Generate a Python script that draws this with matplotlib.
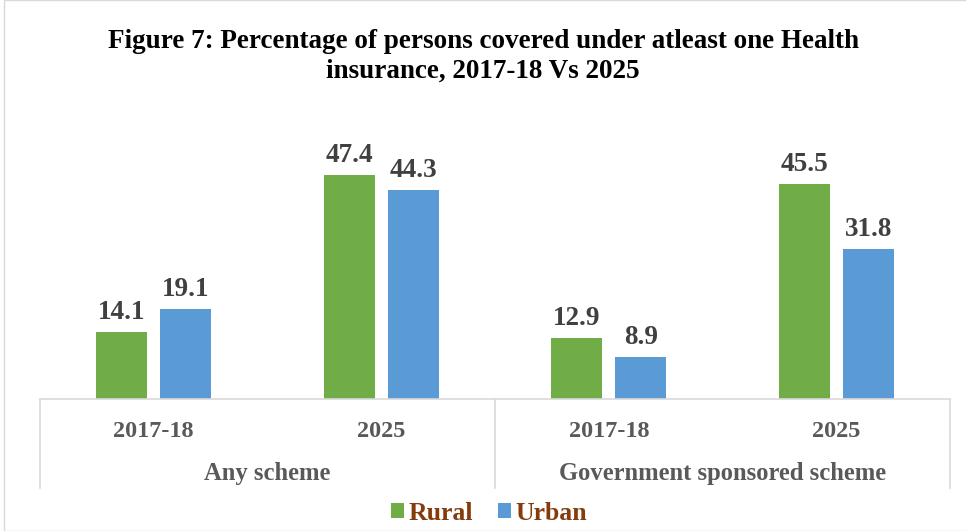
import matplotlib
matplotlib.use("Agg")
import matplotlib.pyplot as plt
from matplotlib.lines import Line2D
from matplotlib.patches import Rectangle
import numpy as np

title = "Figure 7: Percentage of persons covered under atleast one Health\ninsurance, 2017-18 Vs 2025"
groups = ["Any scheme", "Government sponsored scheme"]
years = ["2017-18", "2025", "2017-18", "2025"]
series_names = ["Rural", "Urban"]
rural = [14.1, 47.4, 12.9, 45.5]
urban = [19.1, 44.3, 8.9, 31.8]
colors = ["#70AD47", "#5B9BD5"]

plt.rcParams['font.family'] = ['Liberation Serif', 'DejaVu Serif']
fig = plt.figure(figsize=(9.66, 5.31), dpi=100)
W, H = 966, 531
x0, x1, ybase, ytop = 40, 950, 399, 139
ax = fig.add_axes([x0 / W, 1 - ybase / H, (x1 - x0) / W, (ybase - ytop) / H])

n = len(years)
x = np.arange(n)
bw = 0.224
gap = 0.057
b1 = ax.bar(x - bw / 2 - gap / 2, rural, bw, color=colors[0], label=series_names[0])
b2 = ax.bar(x + bw / 2 + gap / 2, urban, bw, color=colors[1], label=series_names[1])
for bars, vals in ((b1, rural), (b2, urban)):
    for r, v in zip(bars, vals):
        ax.annotate(f"{v:.1f}", (r.get_x() + r.get_width() / 2, v), xytext=(0, 5),
                    textcoords="offset points", ha="center", va="bottom",
                    fontsize=19.5, fontweight="bold", color="#404040")

ax.set_xlim(-0.5, n - 0.5)
ax.set_ylim(0, 55)
ax.set_yticks([])
ax.set_xticks([])
for s in ["top", "right", "left"]:
    ax.spines[s].set_visible(False)
ax.spines["bottom"].set_color("#D9D9D9")
ax.spines["bottom"].set_linewidth(1.2)

# category labels (two-level)
trans = ax.get_xaxis_transform()
for i, yr in enumerate(years):
    ax.text(i, -0.125, yr, transform=trans, ha="center", va="center",
            fontsize=17.5, fontweight="bold", color="#595959")
for gi, g in enumerate(groups):
    ax.text(gi * 2 + 0.5, -0.285, g, transform=trans, ha="center", va="center",
            fontsize=17.7, fontweight="bold", color="#595959")
# separators
for xs in (-0.5, 1.5, 3.5):
    ax.add_line(Line2D([xs, xs], [0, -0.342], transform=trans, color="#D9D9D9",
                       lw=1.2, clip_on=False))

fig.text(0.5, 1 - 56 / H, title, ha="center", va="center", fontsize=19.5,
         fontweight="bold", color="black", linespacing=1.25)

leg = fig.legend(handles=[b1, b2], labels=series_names, loc="center",
                 bbox_to_anchor=(0.5 + 6 / W, 1 - 513 / H), ncol=2, frameon=False,
                 prop={"size": 18.5, "weight": "bold"}, handlelength=0.5,
                 handleheight=0.5, handletextpad=0.15, columnspacing=1.0)
for t in leg.get_texts():
    t.set_color("#843C0C")

fig.patches.append(Rectangle((4 / W, 0), 1, 1, transform=fig.transFigure,
                             fill=False, edgecolor="#D9D9D9", lw=1.0))
fig.savefig("out.png", dpi=100, facecolor="white")
